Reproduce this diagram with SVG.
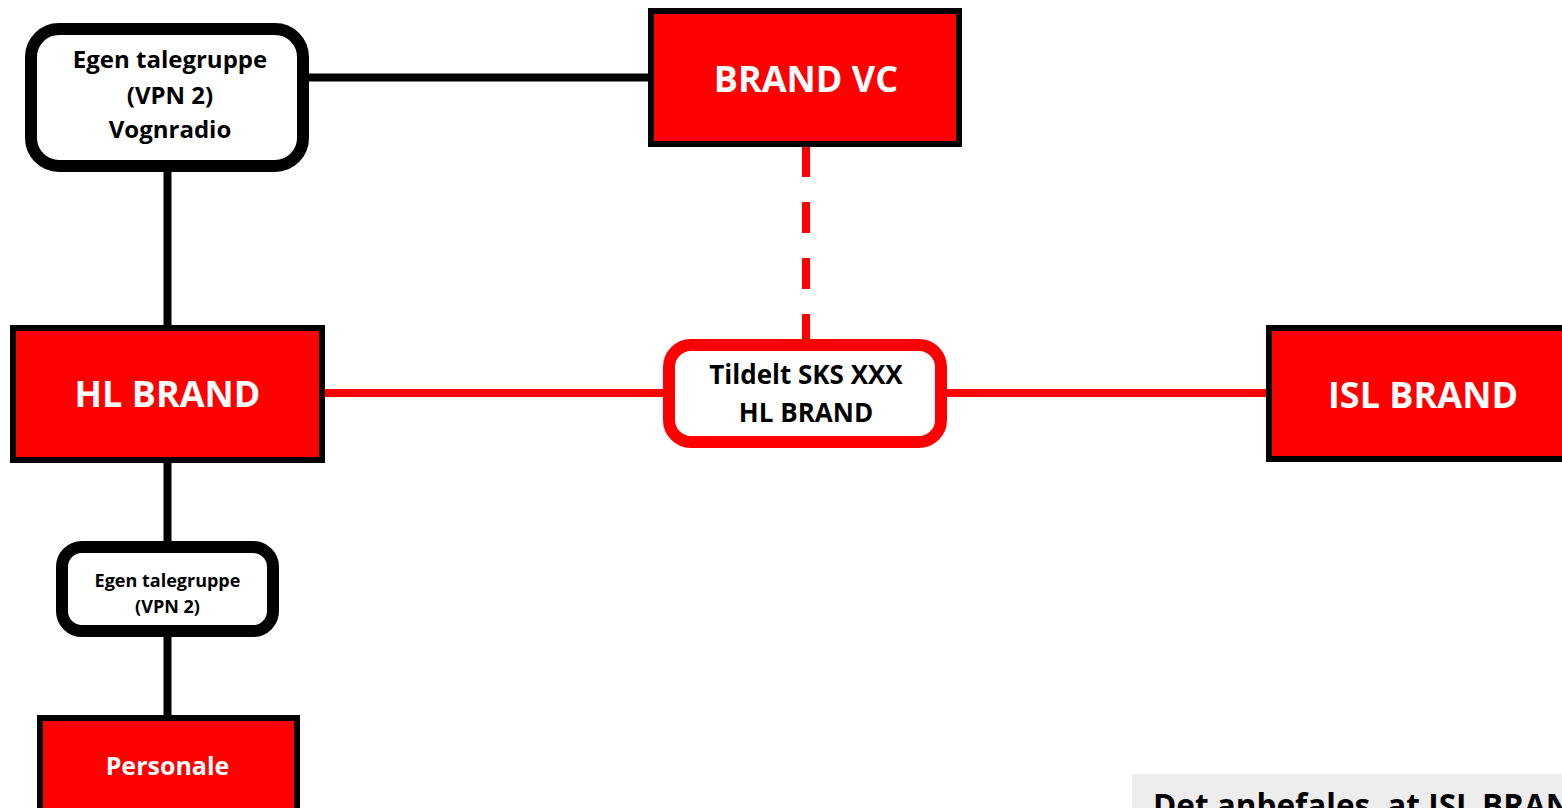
<svg xmlns="http://www.w3.org/2000/svg" width="1562" height="808" viewBox="0 0 1562 808">
<style>
text{font-family:"Open Sans","Liberation Sans",sans-serif;font-weight:700;text-anchor:middle}
.red{fill:#FF0000;stroke:#000;stroke-width:6}
.wbox{fill:#fff;stroke:#000;stroke-width:12}
.rbox{fill:#fff;stroke:#FF0000;stroke-width:12}
.wt{fill:#fff}
.bt{fill:#000}
.lk{stroke:#000;stroke-width:8;fill:none}
.lr{stroke:#FF0000;stroke-width:8;fill:none}
</style>
<rect width="1562" height="808" fill="#fff"/>
<g id="connectors">
<line class="lk" x1="309" y1="77.5" x2="651" y2="77.5"/>
<line class="lk" x1="167.5" y1="171" x2="167.5" y2="328"/>
<line class="lk" x1="167.5" y1="460" x2="167.5" y2="541"/>
<line class="lk" x1="167.5" y1="637" x2="167.5" y2="718"/>
<line class="lr" x1="322" y1="393" x2="663" y2="393"/>
<line class="lr" x1="947" y1="393" x2="1269" y2="393"/>
<line class="lr" x1="806" y1="146" x2="806" y2="345" stroke-dasharray="31 25"/>
</g>
<g id="vognradio">
<rect class="wbox" x="31" y="29" width="272" height="137" rx="28"/>
<text class="bt" x="170" y="68" font-size="24">Egen talegruppe</text>
<text class="bt" x="170" y="104" font-size="24">(VPN 2)</text>
<text class="bt" x="170" y="138" font-size="24">Vognradio</text>
</g>
<g id="brandvc">
<rect class="red" x="651" y="11" width="308" height="133"/>
<text class="wt" x="806" y="92" font-size="36">BRAND VC</text>
</g>
<g id="hlbrand">
<rect class="red" x="13" y="328" width="309" height="132"/>
<text class="wt" x="167.5" y="407" font-size="36">HL BRAND</text>
</g>
<g id="tildelt">
<rect class="rbox" x="669" y="345" width="272" height="97" rx="22"/>
<text class="bt" x="806" y="384" font-size="26">Tildelt SKS XXX</text>
<text class="bt" x="806" y="422" font-size="26">HL BRAND</text>
</g>
<g id="islbrand">
<rect class="red" x="1269" y="328" width="309" height="131"/>
<text class="wt" x="1423" y="408" font-size="36">ISL BRAND</text>
</g>
<g id="talegruppe2">
<rect class="wbox" x="62" y="547" width="211" height="84" rx="20"/>
<text class="bt" x="167.5" y="587" font-size="18">Egen talegruppe</text>
<text class="bt" x="167.5" y="613" font-size="18">(VPN 2)</text>
</g>
<g id="personale">
<rect class="red" x="40" y="718" width="257" height="110"/>
<text class="wt" x="167.5" y="775" font-size="25">Personale</text>
</g>
<g id="note">
<rect x="1132" y="774" width="440" height="50" fill="#EDEDED"/>
<text class="bt" x="1153" y="817" font-size="31.5" style="text-anchor:start">Det anbefales, at ISL BRAND</text>
</g>
</svg>
